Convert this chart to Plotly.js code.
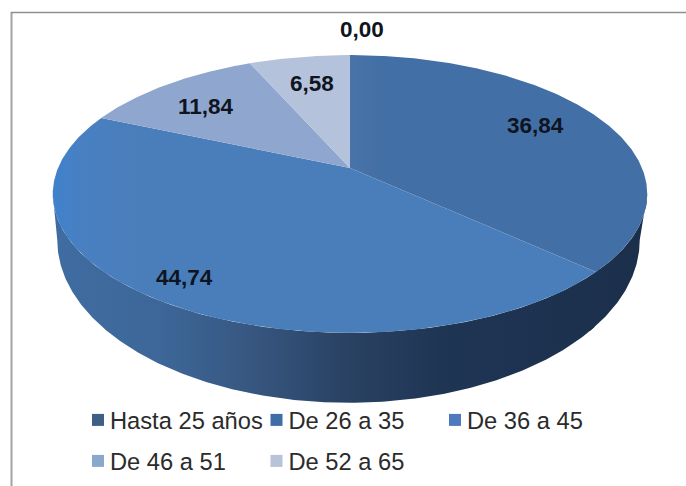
<!DOCTYPE html>
<html>
<head>
<meta charset="utf-8">
<script src="https://cdn.plot.ly/plotly-3.0.1.min.js"></script>
<style>
html,body{margin:0;padding:0;background:#fff;overflow:hidden}
.legendsymbols{transform:translateX(8px)}
</style>
</head>
<body>
<div id="chart" style="width:686px;height:486px"></div>
<script>
const categories = ['Hasta 25 años', 'De 26 a 35', 'De 36 a 45', 'De 46 a 51', 'De 52 a 65'];
const values = [0.00, 36.84, 44.74, 11.84, 6.58];
const legendColors = ['#3f5f86', '#3f6ea6', '#4e79bd', '#8aa8cc', '#b7c3d9'];
const labelX = [362, 535, 184, 205.5, 312];
const labelY = [29, 125, 277, 106, 83];

// Tilted-disc projection, in reference pixels
const cx = 350, apexY = 168, a = 292, b = 134, k = -0.187;
const rimCy = 194, rimRx = 297, rimRy = 139;
const baseCx = 348.5, baseRx = 291, baseCy = 240, baseRy = 163;

function rim(deg) {
  const t = deg * Math.PI / 180, X = Math.sin(t), Y = -Math.cos(t), w = 1 + k * Y;
  return [cx + a * X / w, apexY + b * Y / w];
}
function base(deg) {
  const p = rim(deg);
  return [baseCx + baseRx * (p[0] - cx) / rimRx, baseCy + baseRy * (p[1] - rimCy) / rimRy];
}
function arc(fn, d0, d1) {
  const n = Math.max(2, Math.ceil(Math.abs(d1 - d0) * 2)), out = [];
  for (let i = 0; i <= n; i++) out.push(fn(d0 + (d1 - d0) * i / n));
  return out;
}

const total = values.reduce((s, v) => s + v, 0);
const starts = [];
values.reduce((s, v, i) => { starts[i] = s; return s + v / total * 360; }, 0);
const ends = values.map((v, i) => starts[i] + v / total * 360);

const wallScale = [[0, '#3f6ca2'], [0.18, '#3d6798'], [0.33, '#375781'], [0.49, '#2a4263'], [0.65, '#1f3554'], [1, '#1b2f4b']];
const topScale = {
  1: [[0, '#4a74a8'], [0.1, '#426fa5'], [1, '#426fa5']],
  2: [[0, '#3f82cc'], [0.05, '#4880c2'], [0.15, '#4a7ebb'], [1, '#4a7ebb']],
  3: [[0, '#8fa7cf'], [1, '#8fa7cf']],
  4: [[0, '#b5c2dc'], [1, '#b5c2dc']]
};
const traces = [];
const rightEdge = Math.acos(k) * 180 / Math.PI, leftEdge = 360 - rightEdge;

// Side wall of each slice that faces the viewer; the first overlaps the second to hide the seam
[2, 1].forEach(i => {
  const d0 = Math.max(starts[i], rightEdge) - (i === 2 ? 1.5 : 0), d1 = Math.min(ends[i], leftEdge);
  const pts = arc(rim, d0, d1).concat(arc(base, d1, d0));
  traces.push({
    x: pts.map(p => p[0]), y: pts.map(p => p[1]), mode: 'lines', fill: 'toself',
    line: {width: 0}, hoverinfo: 'skip', showlegend: false,
    fillgradient: {type: 'horizontal', colorscale: wallScale, start: 53, stop: 648}
  });
});
// Top face of each slice
values.forEach((v, i) => {
  if (v <= 0) return;
  const pts = [[cx, apexY]].concat(arc(rim, starts[i], ends[i])).concat([[cx, apexY]]);
  traces.push({
    x: pts.map(p => p[0]), y: pts.map(p => p[1]), mode: 'lines', fill: 'toself',
    line: {width: 0}, hoverinfo: 'skip', showlegend: false,
    fillgradient: {type: 'horizontal', colorscale: topScale[i],
      start: i === 1 ? cx : 53, stop: i === 1 ? 648 : (i === 2 ? 600 : cx)}
  });
});
// Legend entries
categories.forEach((c, i) => {
  traces.push({
    x: [null], y: [null], mode: 'markers', name: c,
    marker: {symbol: 'square', size: 12, color: legendColors[i]},
    legend: i < 3 ? 'legend' : 'legend2'
  });
});

const legendBase = {
  orientation: 'h', xanchor: 'left', yanchor: 'middle', xref: 'paper', yref: 'paper',
  bgcolor: 'rgba(0,0,0,0)', entrywidth: 133.5, entrywidthmode: 'pixels', itemclick: false, itemdoubleclick: false,
  font: {family: '"Liberation Sans", Arial, sans-serif', size: 23.7, color: '#2b2b2b'}
};

const layout = {
  width: 686, height: 486, margin: {l: 0, r: 0, t: 0, b: 0},
  paper_bgcolor: '#fff', plot_bgcolor: '#fff',
  xaxis: {range: [0, 686], visible: false, fixedrange: true},
  yaxis: {range: [486, 0], visible: false, fixedrange: true},
  showlegend: true,
  legend: Object.assign({}, legendBase, {x: 70 / 686, y: 1 - 420 / 486}),
  legend2: Object.assign({}, legendBase, {x: 70 / 686, y: 1 - 461 / 486}),
  shapes: [
    {type: 'line', xref: 'x', yref: 'y', x0: 11.5, x1: 11.5, y0: 12, y1: 486, line: {color: '#a3a3a3', width: 2}},
    {type: 'line', xref: 'x', yref: 'y', x0: 11, x1: 686, y0: 12.5, y1: 12.5, line: {color: '#8f8f8f', width: 1.5}}
  ],
  annotations: values.map((v, i) => ({
    xref: 'x', yref: 'y', x: labelX[i], y: labelY[i], showarrow: false,
    text: '<b>' + v.toFixed(2).replace('.', ',') + '</b>',
    font: {family: '"Liberation Sans", Arial, sans-serif', size: 22.5, color: '#0e1420'}
  }))
};
Plotly.newPlot('chart', traces, layout, {displayModeBar: false});
</script>
</body>
</html>
